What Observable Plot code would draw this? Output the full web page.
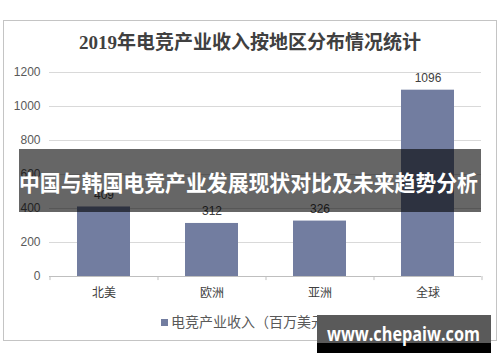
<!DOCTYPE html>
<html><head><meta charset="utf-8">
<script src="https://cdn.jsdelivr.net/npm/d3@7"></script>
<script src="https://cdn.jsdelivr.net/npm/@observablehq/plot@0.6"></script>
<style>
html,body{margin:0;padding:0;background:#fff;}
#wrap{position:relative;width:500px;height:362px;overflow:hidden;background:#fff;}
#frame{position:absolute;left:3px;top:20px;width:492px;height:319px;border:1px solid #c4c4c4;}
#title{position:absolute;left:0;top:29px;width:500px;text-align:center;font:bold 19px "Liberation Serif","Noto Sans CJK SC",serif;color:#404040;line-height:28px;}
#legend{position:absolute;left:161px;top:311px;font:14px "Noto Sans CJK SC",sans-serif;color:#595959;white-space:nowrap;line-height:20px;}
#legend span.sw{display:inline-block;width:7px;height:7px;background:#727da0;margin-right:3px;vertical-align:1px;}
svg{position:absolute;left:0;top:0;}
</style></head>
<body><div id="wrap"></div>
<script>
const regions = ["北美", "欧洲", "亚洲", "全球"];
const revenue = [409, 312, 326, 1096];
const yTicks = [0, 200, 400, 600, 800, 1000, 1200];
const titleText = "2019年电竞产业收入按地区分布情况统计";
const legendText = "电竞产业收入（百万美元）";
const bannerText = "中国与韩国电竞产业发展现状对比及未来趋势分析";
const watermarkText = "www.chepaiw.com";

const data = regions.map((r, i) => ({region: r, value: revenue[i]}));

const chart = Plot.plot({
  width: 500,
  height: 362,
  marginTop: 72,
  marginBottom: 86,
  marginLeft: 49,
  marginRight: 19,
  style: {fontFamily: "'Liberation Sans', Arial, sans-serif", background: "transparent"},
  x: {domain: regions, paddingInner: 0.51, paddingOuter: 0.255, axis: null},
  y: {domain: [0, 1200], axis: null},
  marks: [
    Plot.ruleY(yTicks.filter(d => d > 0), {stroke: "#d9d9d9", strokeWidth: 1}),
    Plot.text(yTicks, {y: d => d, text: d => String(d), frameAnchor: "left", textAnchor: "end", dx: -9, fontSize: 12, fill: "#595959"}),
    Plot.barY(data, {x: "region", y: "value", fill: "#727da0"}),
    Plot.ruleY([0], {stroke: "#bfbfbf", strokeWidth: 1}),
    Plot.ruleX(regions, {x: d => d, dx: -54, y1: 0, y2: -24, stroke: "#bfbfbf"}),
    Plot.ruleX([regions[regions.length - 1]], {x: d => d, dx: 54, y1: 0, y2: -24, stroke: "#bfbfbf"}),
    Plot.text(data, {x: "region", y: "value", text: d => String(d.value), dy: -12, fontSize: 12, fill: "#404040"}),
    Plot.text(regions, {x: d => d, y: 0, text: d => d, dy: 17, fontSize: 12, fill: "#404040", fontFamily: "'Noto Sans CJK SC', sans-serif"})
  ]
});

const wrap = document.getElementById("wrap");
function add(id) { const d = document.createElement("div"); d.id = id; wrap.appendChild(d); return d; }
add("frame");
add("title").textContent = titleText;
wrap.appendChild(chart);
const lg = add("legend");
lg.innerHTML = '<span class="sw"></span>';
lg.appendChild(document.createTextNode(legendText));

// overlay: banner + watermark
const ov = d3.select(wrap).append("svg").attr("width", 500).attr("height", 362);
ov.append("rect").attr("x", 19).attr("y", 149).attr("width", 462).attr("height", 63).attr("fill", "rgba(0,0,0,0.6)");
ov.append("text").attr("x", 19).attr("y", 191).attr("textLength", 459).attr("lengthAdjust", "spacingAndGlyphs")
  .attr("font-family", "'Noto Sans CJK SC', sans-serif").attr("font-weight", "bold").attr("font-size", 22)
  .attr("fill", "#fff").text(bannerText);
ov.append("rect").attr("x", 317).attr("y", 315).attr("width", 174).attr("height", 28).attr("fill", "#5a5a5a");
ov.append("rect").attr("x", 317).attr("y", 343).attr("width", 174).attr("height", 10).attr("fill", "#000");
ov.append("text").attr("x", 327).attr("y", 341).attr("textLength", 153).attr("lengthAdjust", "spacingAndGlyphs")
  .attr("font-family", "'Open Sans', sans-serif").attr("font-weight", "bold").attr("font-size", 19)
  .attr("fill", "#fff").text(watermarkText);
</script>
</body></html>
